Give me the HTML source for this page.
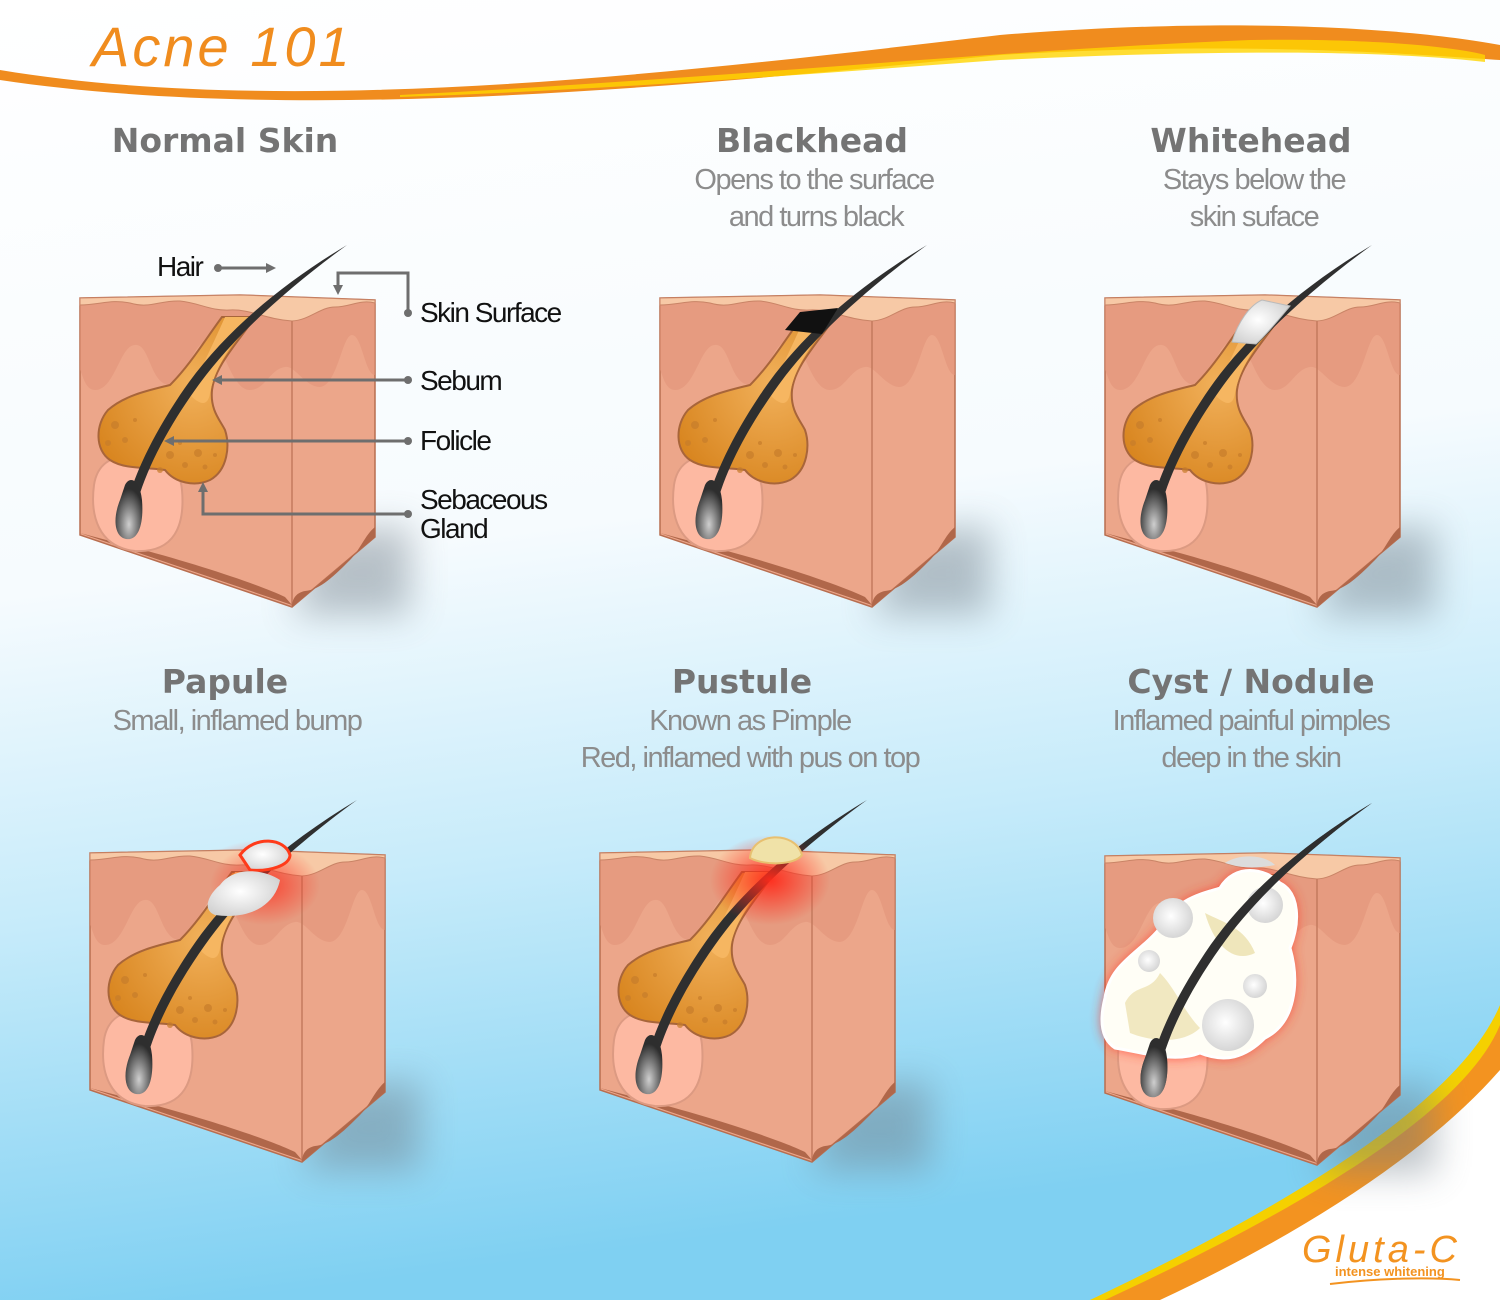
<!DOCTYPE html>
<html><head><meta charset="utf-8"><style>
html,body{margin:0;padding:0;width:1500px;height:1300px;overflow:hidden}
svg{display:block}
.t{font-family:"DejaVu Sans","Liberation Sans",sans-serif;font-weight:bold;fill:#747474;text-anchor:middle}
.s{font-family:"Liberation Sans",sans-serif;fill:#8c8c8c;text-anchor:middle;letter-spacing:-1.5px}
.l{font-family:"Liberation Sans",sans-serif;fill:#111;letter-spacing:-1.5px}
</style></head><body>
<svg width="1500" height="1300" viewBox="0 0 1500 1300" xmlns="http://www.w3.org/2000/svg">
<defs>
<linearGradient id="bg" x1="0" y1="0" x2="0.15" y2="1">
<stop offset="0" stop-color="#ffffff"/><stop offset="0.45" stop-color="#f6fbfe"/><stop offset="0.7" stop-color="#c6ebfa"/><stop offset="1" stop-color="#7fd0f2"/></linearGradient>
<radialGradient id="gl" cx="0.6" cy="0.4" r="0.7"><stop offset="0" stop-color="#f1b05a"/><stop offset="1" stop-color="#d8851f"/></radialGradient>
<radialGradient id="bulb" cx="0.5" cy="0.75" r="0.6"><stop offset="0" stop-color="#cfcfcf"/><stop offset="1" stop-color="#2e2e2e"/></radialGradient>
<radialGradient id="pearl" cx="0.45" cy="0.45" r="0.6"><stop offset="0" stop-color="#ffffff"/><stop offset="1" stop-color="#d2d2d2"/></radialGradient>
<radialGradient id="redg" cx="0.5" cy="0.5" r="0.5"><stop offset="0" stop-color="#ff2a1a" stop-opacity="0.95"/><stop offset="1" stop-color="#ff2a1a" stop-opacity="0"/></radialGradient>
<filter id="blur" x="-50%" y="-50%" width="200%" height="200%"><feGaussianBlur stdDeviation="18"/></filter>
<filter id="blur2" x="-50%" y="-50%" width="200%" height="200%"><feGaussianBlur stdDeviation="6"/></filter>
<g id="blk">
<path d="M240,240 L330,230 L330,320 L212,320 Z" fill="#6d7a85" opacity="0.45" filter="url(#blur)"/>
<path d="M0,3 L160,0 L295,5 L295,242 L212,312 L0,240 Z" fill="#eca68a" stroke="#b86e50" stroke-width="1.5"/>
<path d="M0,10 C20,10 30,4 50,8 C70,14 80,5 100,6 C120,8 130,16 150,15 C170,14 185,24 212,26 C230,25 240,12 255,12 C270,12 280,4 295,8 L295,80 C285,80 282,40 272,40 C262,40 258,90 240,92 C225,92 215,70 205,72 C190,74 185,95 170,95 C150,95 145,45 128,46 C110,48 108,90 90,90 C70,90 70,48 55,50 C40,50 35,95 15,95 C5,95 3,80 0,75 Z" fill="#e2957a" opacity="0.6"/>
<path d="M0,3 L160,0 L295,5 L295,8 C280,4 270,12 255,12 C240,12 230,25 212,26 C185,24 170,14 150,15 C130,16 120,8 100,6 C80,5 70,14 50,8 C30,4 20,10 0,10 Z" fill="#f7c9a6" stroke="#c98466" stroke-width="1"/>
<line x1="212" y1="26" x2="212" y2="312" stroke="#c47a5e" stroke-width="1.5"/>
<path d="M0,238 L212,310 L205,302 C180,290 120,270 60,254 Z" fill="#b0674a"/>
<path d="M212,312 L295,242 L295,232 C285,240 280,255 270,265 C255,280 240,295 225,296 C215,298 212,305 212,312 Z" fill="#b0674a"/>
<path d="M14,190 C10,220 18,252 55,256 C95,258 105,230 102,195 C100,170 80,160 55,160 C30,160 17,170 14,190 Z" fill="#fdb9a2" stroke="#dc9a82" stroke-width="2"/>
<path d="M142,22 L175,22 C160,45 135,70 132,95 C130,115 140,125 145,135 C150,150 148,175 130,185 C115,192 95,188 85,175 C70,172 45,175 30,165 C15,155 15,130 28,115 C45,100 70,95 90,90 C110,70 125,45 142,22 Z" fill="url(#gl)" stroke="#a8653a" stroke-width="2"/>
<path d="M145,22 L172,22 C155,45 135,70 130,98 C128,112 120,110 110,100 C120,75 135,45 145,22 Z" fill="#f6b661"/>
<g fill="#c77d2b" opacity="0.7"><circle cx="35" cy="130" r="4"/><circle cx="45" cy="145" r="3"/><circle cx="28" cy="148" r="3"/><circle cx="55" cy="125" r="2"/><circle cx="90" cy="160" r="4"/><circle cx="105" cy="170" r="3"/><circle cx="118" cy="158" r="4"/><circle cx="125" cy="172" r="2.5"/><circle cx="100" cy="148" r="2"/><circle cx="80" cy="175" r="3"/><circle cx="135" cy="160" r="2"/></g>
<path d="M267,-50 C200,-10 140,40 100,100 C70,145 55,180 48,205 L58,205 C68,170 90,130 115,95 C150,45 205,-5 267,-50 Z" fill="#2f2f2f"/>
<path d="M40,205 C32,225 35,242 46,244 C58,246 64,230 62,205 C60,185 50,180 45,190 Z" fill="url(#bulb)"/>
</g>
</defs>
<rect width="1500" height="1300" fill="url(#bg)"/>
<path d="M0,70 C300,120 700,70 1000,35 C1250,15 1420,30 1500,45 L1500,60 C1420,55 1250,40 1000,55 C700,85 300,125 0,80 Z" fill="#f08c1e"/>
<path d="M400,95 C700,80 1000,50 1250,40 C1380,38 1460,48 1485,55 L1485,62 C1400,52 1250,48 1000,60 C800,75 600,90 400,97 Z" fill="#ffd400" opacity="0.8"/>
<text x="92" y="66" font-family="Liberation Sans,sans-serif" font-style="italic" font-size="56" fill="#f08c1e" letter-spacing="3">Acne 101</text>
<path d="M1090,1300 C1300,1200 1460,1100 1500,1005 L1500,1300 Z" fill="#f5d000"/>
<path d="M1105,1300 C1310,1205 1465,1110 1500,1025 L1500,1300 Z" fill="#f39320"/>
<path d="M1160,1300 C1310,1230 1430,1150 1500,1070 L1500,1300 Z" fill="#ffffff"/>
<text x="1302" y="1262" font-family="Liberation Sans,sans-serif" font-style="italic" font-size="38" fill="#f39320" letter-spacing="4">Gluta-C</text>
<text x="1335" y="1276" font-family="Liberation Sans,sans-serif" font-weight="bold" font-size="13" fill="#f39320">intense whitening</text>
<path d="M1330,1284 C1380,1278 1430,1277 1460,1280" stroke="#f39320" stroke-width="2" fill="none"/>

<use href="#blk" transform="translate(80,295)"/>
<use href="#blk" transform="translate(660,295)"/>
<use href="#blk" transform="translate(1105,295)"/>
<g transform="translate(90,850)">
<ellipse cx="170" cy="40" rx="70" ry="50" fill="url(#redg)"/>
</g>
<use href="#blk" transform="translate(90,850)"/>
<g transform="translate(90,850)">
<ellipse cx="175" cy="35" rx="55" ry="40" fill="url(#redg)" opacity="0.8"/>
<path d="M150,5 C165,-15 195,-12 200,5 C200,15 180,22 160,20 Z" fill="url(#pearl)" stroke="#ff3b1a" stroke-width="3"/>
<path d="M130,35 C145,15 175,20 190,30 C185,55 160,70 125,65 C112,60 118,45 130,35 Z" fill="url(#pearl)"/>
</g>
<use href="#blk" transform="translate(600,850)"/>
<g transform="translate(600,850)">
<ellipse cx="170" cy="30" rx="60" ry="45" fill="url(#redg)"/>
<path d="M150,8 C152,-18 195,-20 202,5 C195,15 165,16 150,8 Z" fill="#f0e2a8" stroke="#e8c070" stroke-width="2"/>
</g>
<use href="#blk" transform="translate(1105,853)"/>
<g transform="translate(1105,853)">
<path d="M0,145 C5,110 35,100 55,75 C70,45 100,40 115,35 C130,10 160,15 175,30 C195,40 195,70 185,95 C195,130 190,170 160,185 C140,205 120,210 95,200 C70,210 40,200 10,195 C-5,185 -5,165 0,145 Z" fill="#ff3b2a" filter="url(#blur2)" opacity="0.9"/>
<path d="M0,145 C5,110 35,100 55,75 C70,45 100,40 115,35 C130,10 160,15 175,30 C195,40 195,70 185,95 C195,130 190,170 160,185 C140,205 120,210 95,200 C70,210 40,200 10,195 C-5,185 -5,165 0,145 Z" fill="#fffef6" stroke="#fff" stroke-width="3"/>
<path d="M20,150 C30,130 45,140 55,120 C70,135 80,160 95,175 C80,190 50,190 25,180 Z" fill="#efe6bb" opacity="0.9"/>
<path d="M100,60 C120,70 140,75 150,100 C130,110 110,95 100,60 Z" fill="#efe6bb"/>
<circle cx="68" cy="65" r="20" fill="url(#pearl)"/>
<circle cx="160" cy="52" r="18" fill="url(#pearl)"/>
<circle cx="44" cy="108" r="11" fill="url(#pearl)"/>
<circle cx="150" cy="133" r="12" fill="url(#pearl)"/>
<circle cx="123" cy="172" r="26" fill="url(#pearl)"/>
<path d="M120,10 C135,0 160,2 170,12 C150,16 135,15 120,10 Z" fill="#dcdcdc"/>
<path d="M267,-50 C200,-10 140,40 100,100 C70,145 55,180 48,205 L58,205 C68,170 90,130 115,95 C150,45 205,-5 267,-50 Z" fill="#2f2f2f"/>
<path d="M40,205 C32,225 35,242 46,244 C58,246 64,230 62,205 C60,185 50,180 45,190 Z" fill="url(#bulb)"/>
</g>
<path d="M785,330 L800,312 L838,308 L822,334 Z" fill="#111"/>
<path d="M1232,342 C1238,322 1250,305 1262,300 L1290,306 C1280,318 1268,333 1256,344 Z" fill="url(#pearl)" stroke="#bbb" stroke-width="1"/>

<g stroke="#6e6e6e" stroke-width="3" fill="none">
<line x1="218" y1="268" x2="268" y2="268"/>
<polyline points="408,313 408,273 338,273 338,288"/>
<line x1="408" y1="380" x2="220" y2="380"/>
<line x1="408" y1="441" x2="172" y2="441"/>
<polyline points="408,514 203,514 203,490"/>
</g>
<g fill="#6e6e6e">
<circle cx="218" cy="268" r="4"/><path d="M276,268 L266,263 L266,273 Z"/>
<circle cx="408" cy="313" r="4"/><path d="M338,295 L333,285 L343,285 Z"/>
<circle cx="408" cy="380" r="4"/><path d="M212,380 L222,375 L222,385 Z"/>
<circle cx="408" cy="441" r="4"/><path d="M164,441 L174,436 L174,446 Z"/>
<circle cx="408" cy="514" r="4"/><path d="M203,482 L198,492 L208,492 Z"/>
</g>
<text class="l" x="157" y="276" font-size="28">Hair</text>
<text class="l" x="420" y="322" font-size="28">Skin Surface</text>
<text class="l" x="420" y="390" font-size="28">Sebum</text>
<text class="l" x="420" y="450" font-size="28">Folicle</text>
<text class="l" x="420" y="509" font-size="28">Sebaceous</text>
<text class="l" x="420" y="538" font-size="28">Gland</text>

<text class="t" x="225" y="152" font-size="33">Normal Skin</text>
<text class="t" x="812" y="152" font-size="33">Blackhead</text>
<text class="s" x="814" y="189" font-size="29">Opens to the surface</text>
<text class="s" x="816" y="226" font-size="29">and turns black</text>
<text class="t" x="1251" y="152" font-size="33">Whitehead</text>
<text class="s" x="1254" y="189" font-size="29">Stays below the</text>
<text class="s" x="1254" y="226" font-size="29">skin suface</text>
<text class="t" x="225" y="693" font-size="33">Papule</text>
<text class="s" x="237" y="730" font-size="29">Small,  inflamed bump</text>
<text class="t" x="742" y="693" font-size="33">Pustule</text>
<text class="s" x="750" y="730" font-size="29">Known as Pimple</text>
<text class="s" x="750" y="767" font-size="29">Red, inflamed with pus on top</text>
<text class="t" x="1251" y="693" font-size="33">Cyst / Nodule</text>
<text class="s" x="1251" y="730" font-size="29">Inflamed painful pimples</text>
<text class="s" x="1251" y="767" font-size="29">deep in the skin</text>
</svg>
</body></html>
